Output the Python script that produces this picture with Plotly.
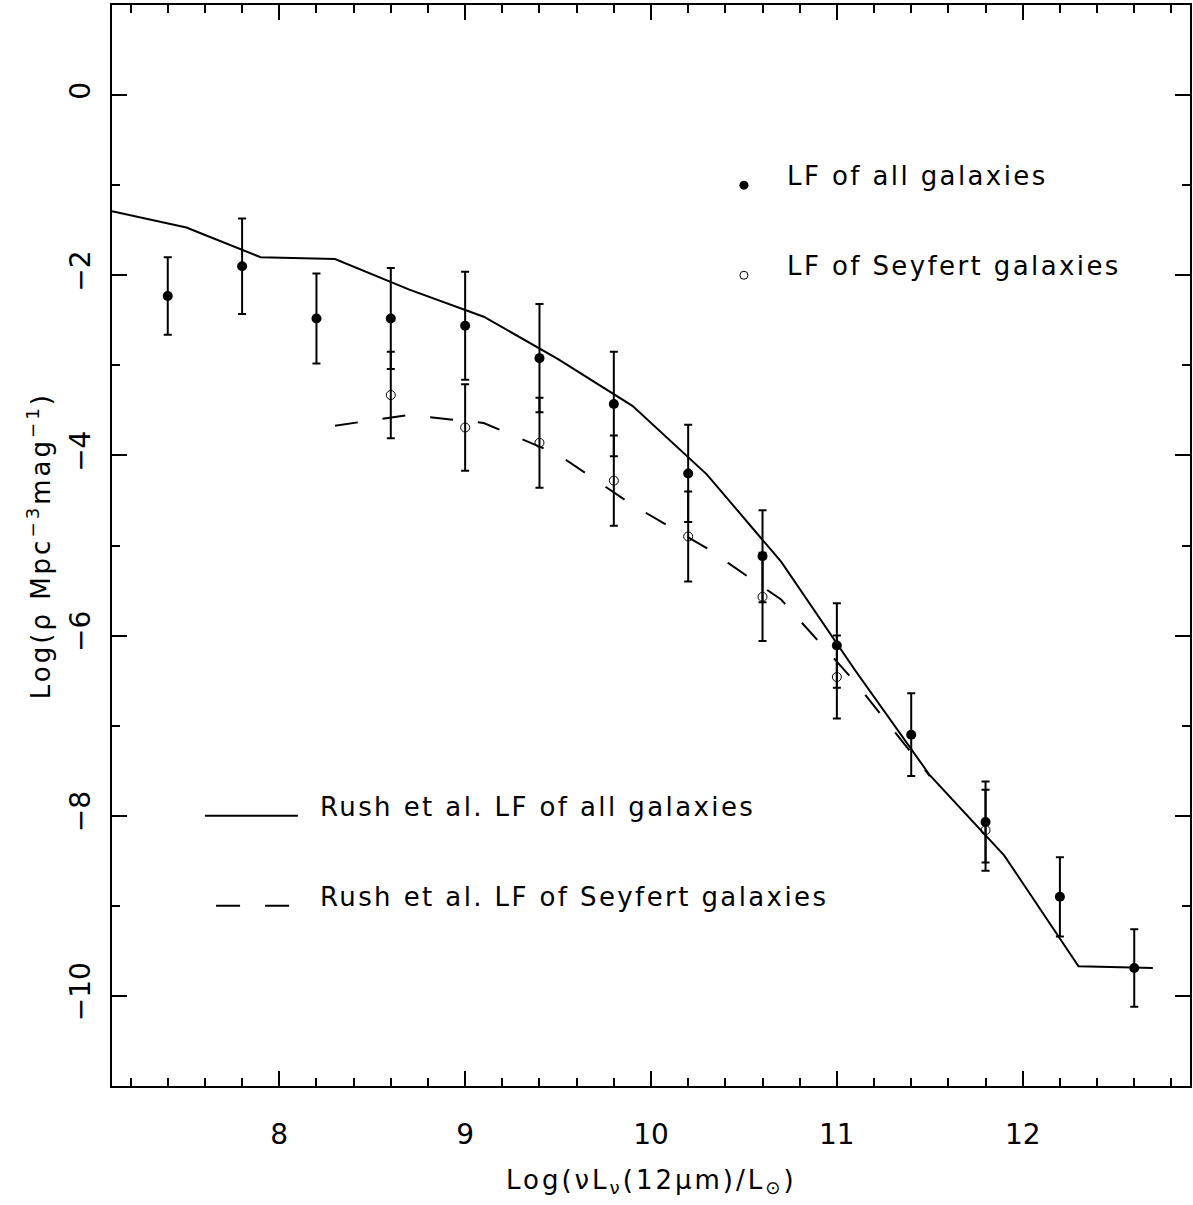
import plotly.graph_objects as go

# Observed luminosity function, all galaxies
lum_all = [7.4, 7.8, 8.2, 8.6, 9.0, 9.4, 9.8, 10.2, 10.6, 11.0, 11.4, 11.8, 12.2, 12.6]
lf_all = [-2.23, -1.90, -2.48, -2.48, -2.56, -2.92, -3.43, -4.20, -5.12, -6.11, -7.10, -8.07, -8.90, -9.69]
err_all = [0.43, 0.53, 0.50, 0.56, 0.60, 0.60, 0.58, 0.54, 0.51, 0.47, 0.46, 0.45, 0.44, 0.43]

# Observed luminosity function, Seyfert galaxies
lum_sey = [8.6, 9.0, 9.4, 9.8, 10.2, 10.6, 11.0, 11.8]
lf_sey = [-3.33, -3.69, -3.86, -4.28, -4.90, -5.57, -6.46, -8.16]
err_sey = [0.48, 0.48, 0.50, 0.50, 0.50, 0.49, 0.46, 0.45]

# Rush et al. LF of all galaxies
rush_all_x = [7.1, 7.5, 7.9, 8.3, 8.7, 9.1, 9.5, 9.9, 10.3, 10.7, 11.1, 11.5, 11.9, 12.3, 12.7]
rush_all_y = [-1.29, -1.47, -1.80, -1.82, -2.16, -2.46, -2.93, -3.45, -4.21, -5.18, -6.39, -7.55, -8.44, -9.67, -9.69]

# Rush et al. LF of Seyfert galaxies
rush_sey_x = [8.3, 8.7, 9.1, 9.5, 9.9, 10.3, 10.7, 11.1, 11.5]
rush_sey_y = [-3.67, -3.55, -3.64, -3.99, -4.55, -5.03, -5.60, -6.52, -7.56]

FONT = "DejaVu Sans"
LS = "letter-spacing:2.4px"

fig = go.Figure()

fig.add_trace(go.Scatter(x=rush_all_x, y=rush_all_y, mode="lines",
                         line=dict(color="black", width=2), showlegend=False))
fig.add_trace(go.Scatter(x=rush_sey_x, y=rush_sey_y, mode="lines",
                         line=dict(color="black", width=2, dash="23px,25px"), showlegend=False))
fig.add_trace(go.Scatter(x=lum_sey, y=lf_sey, mode="markers",
                         marker=dict(symbol="circle-open", size=9, color="black", line=dict(width=1)),
                         error_y=dict(type="data", array=err_sey, color="black", thickness=2, width=4),
                         showlegend=False))
fig.add_trace(go.Scatter(x=lum_all, y=lf_all, mode="markers",
                         marker=dict(symbol="circle", size=10, color="black"),
                         error_y=dict(type="data", array=err_all, color="black", thickness=2, width=4),
                         showlegend=False))

# legend keys
key_x = [10.5, 10.5]
key_y = [-1.0, -2.0]
fig.add_trace(go.Scatter(x=key_x[:1], y=key_y[:1], mode="markers",
                         marker=dict(symbol="circle", size=9, color="black"), showlegend=False))
fig.add_trace(go.Scatter(x=key_x[1:], y=key_y[1:], mode="markers",
                         marker=dict(symbol="circle-open", size=8, color="black", line=dict(width=1)),
                         showlegend=False))
fig.add_shape(type="line", x0=7.6, x1=8.1, y0=-8, y1=-8, line=dict(color="black", width=2))
fig.add_shape(type="line", x0=7.66, x1=8.06, y0=-9, y1=-9,
              line=dict(color="black", width=2, dash="24px,25px"))

labels = [
    (10.72, -0.9, "LF of all galaxies"),
    (10.72, -1.9, "LF of Seyfert galaxies"),
    (8.21, -7.9, "Rush et al. LF of all galaxies"),
    (8.21, -8.9, "Rush et al. LF of Seyfert galaxies"),
]
for x, y, t in labels:
    fig.add_annotation(x=x, y=y, text=f'<span style="{LS}">{t}</span>', showarrow=False,
                       xanchor="left", yanchor="middle",
                       font=dict(family=FONT, size=26, color="black"))

fig.add_annotation(xref="paper", yref="paper", x=0.5, y=-0.088,
                   text='<span style="letter-spacing:3px">Log(νL<sub>ν</sub>(12μm)/L<sub>⊙</sub>)</span>',
                   showarrow=False, xanchor="center", yanchor="middle",
                   font=dict(family=FONT, size=26, color="black"))
fig.add_annotation(xref="paper", yref="paper", x=-0.068, y=0.5,
                   text='<span style="letter-spacing:3px">Log(ρ Mpc<sup>−3</sup>mag<sup>−1</sup>)</span>',
                   showarrow=False, xanchor="center", yanchor="middle", textangle=-90,
                   font=dict(family=FONT, size=26, color="black"))

fig.update_xaxes(range=[7.1, 12.9], showline=True, linecolor="black", linewidth=2, mirror="allticks",
                 ticks="inside", ticklen=15, tickwidth=2, tickcolor="black", dtick=1, tick0=0,
                 minor=dict(dtick=0.2, tick0=0, ticks="inside", ticklen=8, tickwidth=2, tickcolor="black"),
                 showgrid=False, zeroline=False, ticklabelstandoff=22,
                 tickfont=dict(family=FONT, size=28, color="black"))
fig.update_yaxes(range=[-11, 1], showline=True, linecolor="black", linewidth=2, mirror="allticks",
                 ticks="inside", ticklen=15, tickwidth=2, tickcolor="black", dtick=2, tick0=0,
                 minor=dict(dtick=1, tick0=0, ticks="inside", ticklen=8, tickwidth=2, tickcolor="black"),
                 showgrid=False, zeroline=False, tickangle=-90, ticklabelstandoff=9,
                 tickfont=dict(family=FONT, size=28, color="black"))

fig.update_layout(width=1193, height=1205, margin=dict(l=112, r=1, t=5, b=119),
                  plot_bgcolor="white", paper_bgcolor="white")

fig.write_html("out.html")
